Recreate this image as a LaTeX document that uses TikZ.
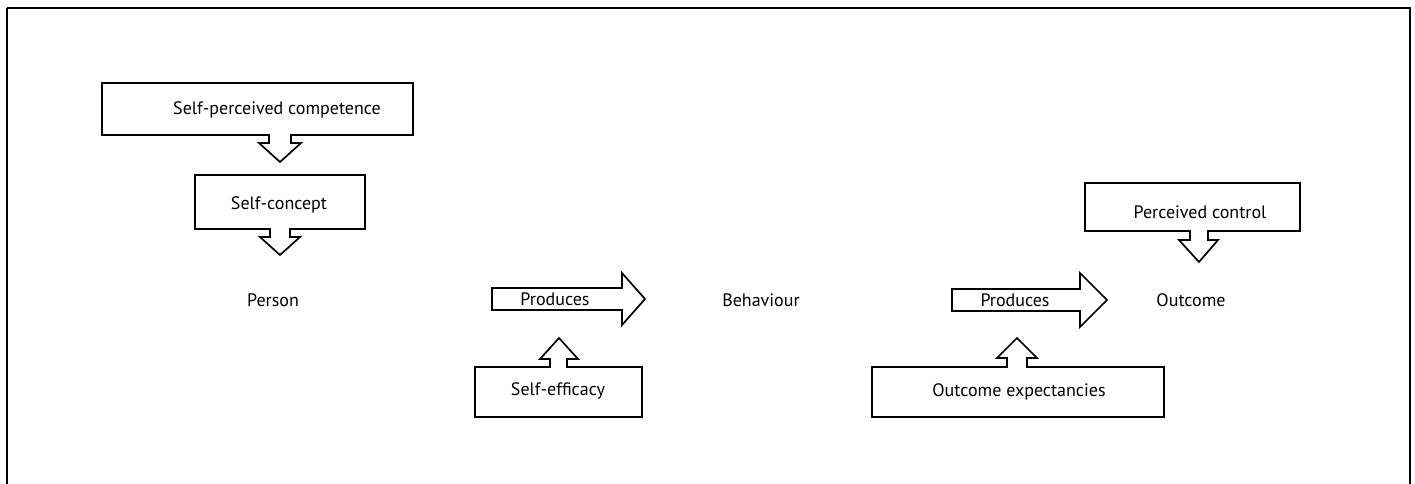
\documentclass[tikz,border=0pt]{standalone}
\usepackage{fontspec}
\setmainfont{PT Sans}
\tikzset{
  shp/.style={draw=black, line width=0.85pt, fill=white, line join=miter},
  lbl/.style={inner sep=0pt, font=\fontsize{9}{11}\selectfont},
  frame/.style={draw=black, line width=1.3pt}
}
\begin{document}
\begin{tikzpicture}[x=0.5pt,y=-0.5pt]
\useasboundingbox (0,0) rectangle (1415,483);
\fill[white] (0,0) rectangle (1415,483);
\draw[frame] (7,8) -- (1410,8) -- (1410,495) (7,495) -- (7,8);
% Self-perceived competence
\draw[shp] (102,83) -- (413,83) -- (413,135) -- (291,135) -- (291,143) -- (301,143) -- (280,162) -- (259,143) -- (269,143) -- (269,135) -- (102,135) -- cycle;
\node[lbl] (spc) at (277,110) {Self-perceived competence};
% Self-concept
\draw[shp] (195,175) -- (365,175) -- (365,229) -- (290,229) -- (290,237) -- (300,237) -- (280,255) -- (260,237) -- (270,237) -- (270,229) -- (195,229) -- cycle;
\node[lbl] (sc) at (279,205) {Self-concept};
% Person
\node[lbl] (person) at (273,300) {Person};
% Produces 1
\draw[shp] (492,288) -- (622,288) -- (622,273) -- (645,299) -- (622,325) -- (622,310) -- (492,310) -- cycle;
\node[lbl] (prod1) at (555,299) {Produces};
% Self-efficacy
\draw[shp] (475,367) -- (550,367) -- (550,359) -- (540,359) -- (559,338) -- (578,359) -- (567,359) -- (567,367) -- (642,367) -- (642,417) -- (475,417) -- cycle;
\node[lbl] (se) at (558,391) {Self-efficacy};
% Behaviour
\node[lbl] (beh) at (761,300) {Behaviour};
% Produces 2
\draw[shp] (952,289) -- (1080,289) -- (1080,273) -- (1107,300) -- (1080,327) -- (1080,311) -- (952,311) -- cycle;
\node[lbl] (prod2) at (1015,300) {Produces};
% Outcome expectancies
\draw[shp] (872,367) -- (1007,367) -- (1007,358) -- (997,358) -- (1017,338) -- (1037,358) -- (1027,358) -- (1027,367) -- (1164,367) -- (1164,417) -- (872,417) -- cycle;
\node[lbl] (oe) at (1019,392) {Outcome expectancies};
% Outcome
\node[lbl] (out) at (1191,300) {Outcome};
% Perceived control
\draw[shp] (1085,183) -- (1300,183) -- (1300,231) -- (1208,231) -- (1208,240) -- (1218,240) -- (1199,262) -- (1179,240) -- (1190,240) -- (1190,231) -- (1085,231) -- cycle;
\node[lbl] (pc) at (1200,212) {Perceived control};
\end{tikzpicture}
\end{document}
